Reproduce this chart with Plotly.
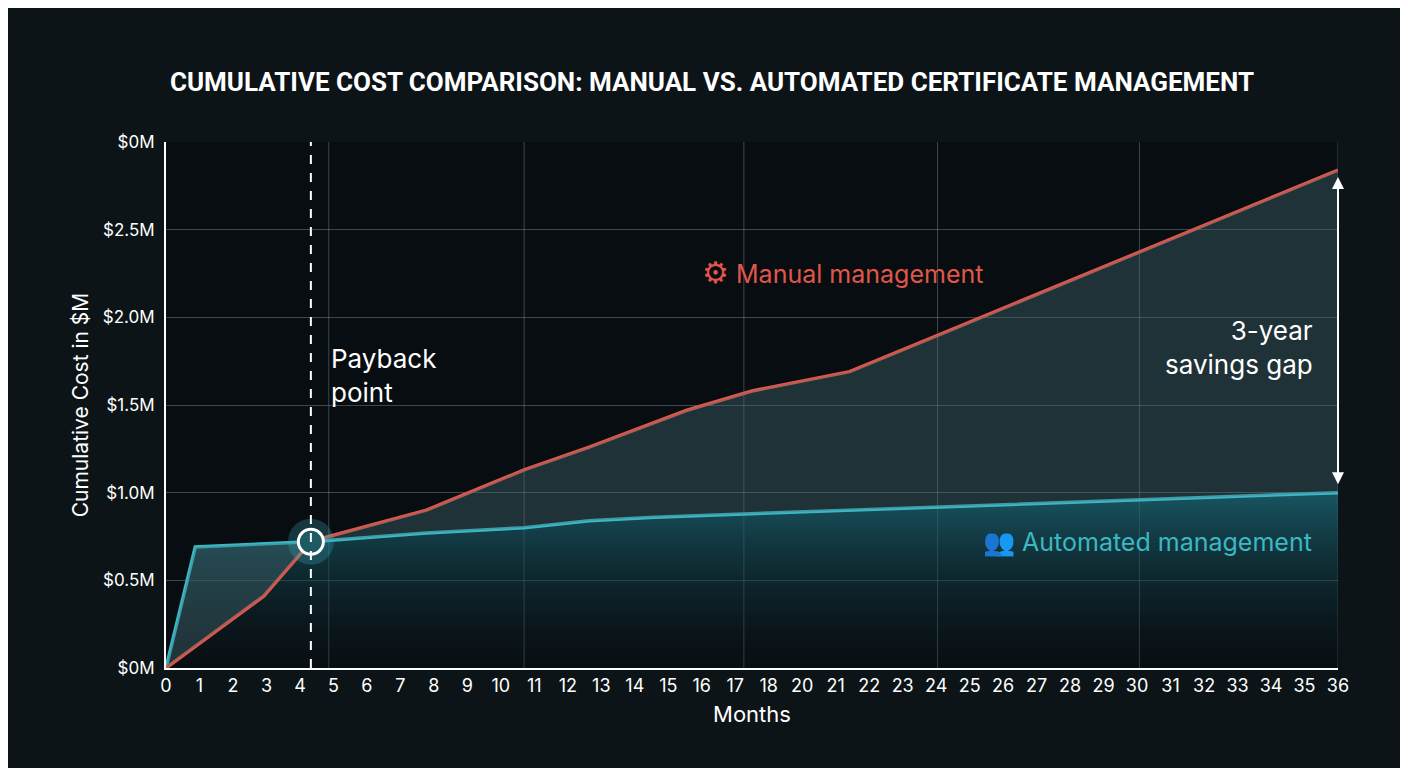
import plotly.graph_objects as go

# manual management cumulative cost ($M) by month
manual_months = [0, 3, 4.45, 5, 8, 11, 13, 15, 16, 18, 21, 24, 27, 30, 33, 36]
manual_cost = [0, 0.41, 0.72, 0.75, 0.90, 1.13, 1.26, 1.40, 1.47, 1.58, 1.69, 1.92, 2.15, 2.38, 2.61, 2.84]

# automated management cumulative cost ($M) by month
auto_months = [0, 0.9, 4.45, 8, 11, 13, 15, 18, 24, 30, 36]
auto_cost = [0, 0.69, 0.72, 0.77, 0.80, 0.84, 0.86, 0.88, 0.92, 0.96, 1.00]

month_labels = [str(m) for m in range(0, 19)] + [str(m) for m in range(20, 37)]
y_ticks = [0, 0.5, 1.0, 1.5, 2.0, 2.5, 3.0]
y_labels = ["$0M", "$0.5M", "$1.0M", "$1.5M", "$2.0M", "$2.5M", "$0M"]
grid_months = [5, 11, 17.75, 23.7, 29.9, 36]

payback_month = 4.45
payback_cost = 0.72

RED = "#e0574a"
TEAL = "#3bb8c3"

fig = go.Figure()

fig.add_trace(go.Scatter(
    x=auto_months, y=auto_cost, mode="lines",
    line=dict(color=TEAL, width=3.5),
    fill="tozeroy",
    fillgradient=dict(type="vertical",
                      colorscale=[[0, "rgba(10,22,28,0.2)"], [1, "rgba(30,110,125,0.75)"]]),
    hoverinfo="skip"))

fig.add_trace(go.Scatter(
    x=manual_months, y=manual_cost, mode="lines",
    line=dict(color=RED, width=3.5),
    hoverinfo="skip"))

# savings gap band between the two curves
fig.add_trace(go.Scatter(
    x=auto_months + manual_months[::-1],
    y=auto_cost + manual_cost[::-1],
    mode="none", fill="toself",
    fillcolor="rgba(70,110,118,0.38)", hoverinfo="skip"))

# payback glow + marker
fig.add_trace(go.Scatter(
    x=[payback_month], y=[payback_cost], mode="markers",
    marker=dict(size=46, color="rgba(59,184,195,0.25)"), hoverinfo="skip"))
fig.add_trace(go.Scatter(
    x=[payback_month], y=[payback_cost], mode="markers",
    marker=dict(size=25, color="#1d5a63", line=dict(color="white", width=3)),
    hoverinfo="skip"))

shapes = []
for m in grid_months:
    shapes.append(dict(type="line", xref="x", yref="y", x0=m, x1=m, y0=0, y1=3.0,
                       line=dict(color="rgba(160,180,190,0.35)", width=1), layer="below"))
shapes.append(dict(type="line", xref="x", yref="y", x0=payback_month, x1=payback_month,
                   y0=0, y1=3.0, line=dict(color="white", width=2, dash="dash")))

fig.update_layout(
    width=1408, height=768,
    paper_bgcolor="#0c1418", plot_bgcolor="#080d11",
    margin=dict(l=158, r=78, t=134, b=108),
    showlegend=False,
    font=dict(family="Inter, Roboto, sans-serif", color="white"),
    title=dict(text="<b>CUMULATIVE COST COMPARISON: MANUAL VS. AUTOMATED CERTIFICATE MANAGEMENT</b>",
               x=0.5, y=0.915, xanchor="center",
               font=dict(size=26, color="white", family="Roboto, Inter, sans-serif")),
    shapes=shapes,
    xaxis=dict(range=[0, 36], tickvals=[i * 36 / 35 for i in range(36)], ticktext=month_labels,
               showgrid=False, zeroline=False, showline=True, linecolor="white", linewidth=2,
               tickfont=dict(size=18, color="white"), ticks="",
               title=dict(text="Months", font=dict(size=22, color="white"), standoff=12)),
    yaxis=dict(range=[0, 3.0], tickvals=y_ticks, ticktext=y_labels,
               gridcolor="rgba(160,180,190,0.35)", zeroline=False,
               showline=True, linecolor="white", linewidth=2,
               tickfont=dict(size=17, color="white"), ticks="", ticklabelstandoff=6,
               title=dict(text="Cumulative Cost in $M", font=dict(size=21, color="white"), standoff=8)),
)

fig.add_annotation(x=payback_month + 0.55, y=1.67, xref="x", yref="y", text="Payback<br>point",
                   showarrow=False, xanchor="left", align="left",
                   font=dict(size=26, color="white"))
fig.add_annotation(x=16.4, y=2.26, xref="x", yref="y",
                   text="<span style='font-size:30px'>⚙</span> Manual management",
                   showarrow=False, xanchor="left", font=dict(size=25, color=RED))
fig.add_annotation(x=35.25, y=0.72, xref="x", yref="y",
                   text="<span style='font-size:26px'>👥</span> Automated management",
                   showarrow=False, xanchor="right", font=dict(size=25, color=TEAL))
fig.add_annotation(x=35.3, y=1.83, xref="x", yref="y", text="3-year<br>savings gap",
                   showarrow=False, xanchor="right", align="right",
                   font=dict(size=26, color="white"))
# double-headed gap arrow
fig.add_annotation(x=36, y=2.8, ax=36, ay=1.04, xref="x", yref="y", axref="x", ayref="y",
                   text="", showarrow=True, arrowhead=2, arrowside="end+start",
                   arrowsize=1.2, arrowwidth=2, arrowcolor="white")

fig.write_html("out.html")
